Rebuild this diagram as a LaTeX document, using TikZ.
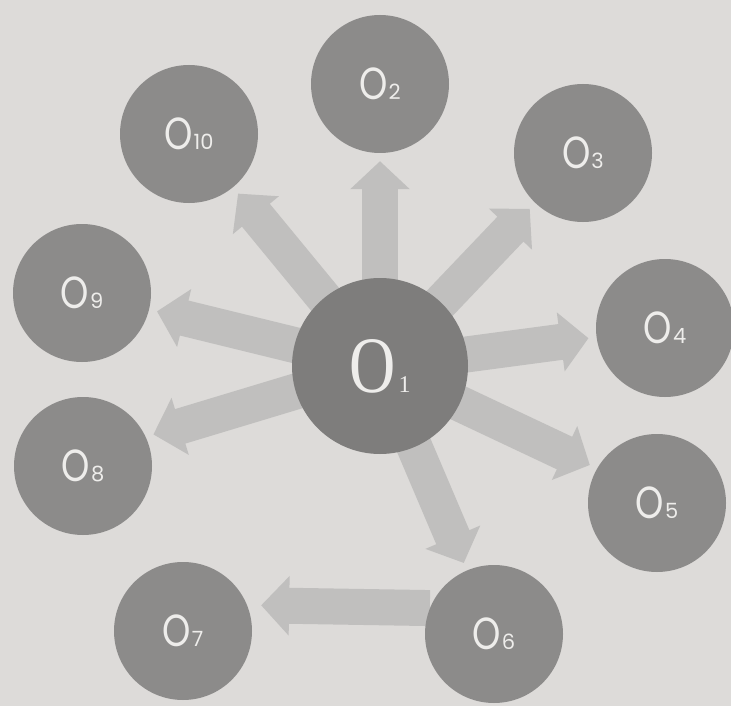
\documentclass[tikz,border=0pt]{standalone}
\usepackage{fontspec}
\newfontfamily\lblfont{Poppins}
\newfontfamily\lblOfont[FakeStretch=0.8]{Poppins}
\newfontfamily\hubfont{Liberation Serif}
\newfontfamily\hubOfont[FakeStretch=0.8]{Liberation Serif}
\usetikzlibrary{arrows.meta,backgrounds}
\definecolor{paper}{RGB}{221,219,217}
\definecolor{discgray}{RGB}{140,139,138}
\definecolor{hubgray}{RGB}{126,125,124}
\definecolor{arrgray}{RGB}{192,191,190}
\definecolor{ink}{RGB}{238,237,235}
\newcommand\smlabel[1]{{\lblOfont O}\kern1pt{\fontsize{21}{21}\selectfont #1}}
\newcommand\hublabel[1]{{\hubOfont O}\kern3pt{\fontsize{24}{24}\selectfont #1}}
\begin{document}
\begin{tikzpicture}[x=1pt,y=-1pt,
  disc/.style={circle,fill=discgray,minimum size=138pt,inner sep=0pt,text=ink,
    font=\lblfont\fontsize{45}{45}\selectfont},
  hub/.style={circle,fill=hubgray,minimum size=176pt,inner sep=0pt,text=ink,
    font=\hubfont\fontsize{80}{80}\selectfont},
  bigarrow/.style={draw=arrgray,line width=36pt,
    -{Triangle[width=58pt,length=28pt]},shorten >=8pt}]
\useasboundingbox (0,0) rectangle (731,706);
\node[hub]  (o1)  at (380,366) {\hublabel{1}};
\node[disc] (o2)  at (380,84)  {\smlabel{2}};
\node[disc] (o3)  at (583,153) {\smlabel{3}};
\node[disc] (o4)  at (665,328) {\smlabel{4}};
\node[disc] (o5)  at (657,503) {\smlabel{5}};
\node[disc] (o6)  at (494,634) {\smlabel{6}};
\node[disc] (o7)  at (183,631) {\smlabel{7}};
\node[disc] (o8)  at (83,466)  {\smlabel{8}};
\node[disc] (o9)  at (82,293)  {\smlabel{9}};
\node[disc] (o10) at (189,134) {\smlabel{10}};
\begin{pgfonlayer}{background}
  \fill[paper] (0,0) rectangle (731,706);
  \draw[bigarrow] (o1.center) -- (o2);
  \draw[bigarrow] (o1.center) -- (o3);
  \draw[bigarrow] (o1.center) -- (o4);
  \draw[bigarrow] (o1.center) -- (o5.150);
  \draw[bigarrow] (o1.center) -- (o6);
  \draw[bigarrow] (o1.center) -- (o8.25);
  \draw[bigarrow] (o1.center) -- (o9);
  \draw[bigarrow] (o1.center) -- (o10);
  \draw[bigarrow,shorten >=14pt] (o6.158) -- (o7.22);
\end{pgfonlayer}
\end{tikzpicture}
\end{document}
